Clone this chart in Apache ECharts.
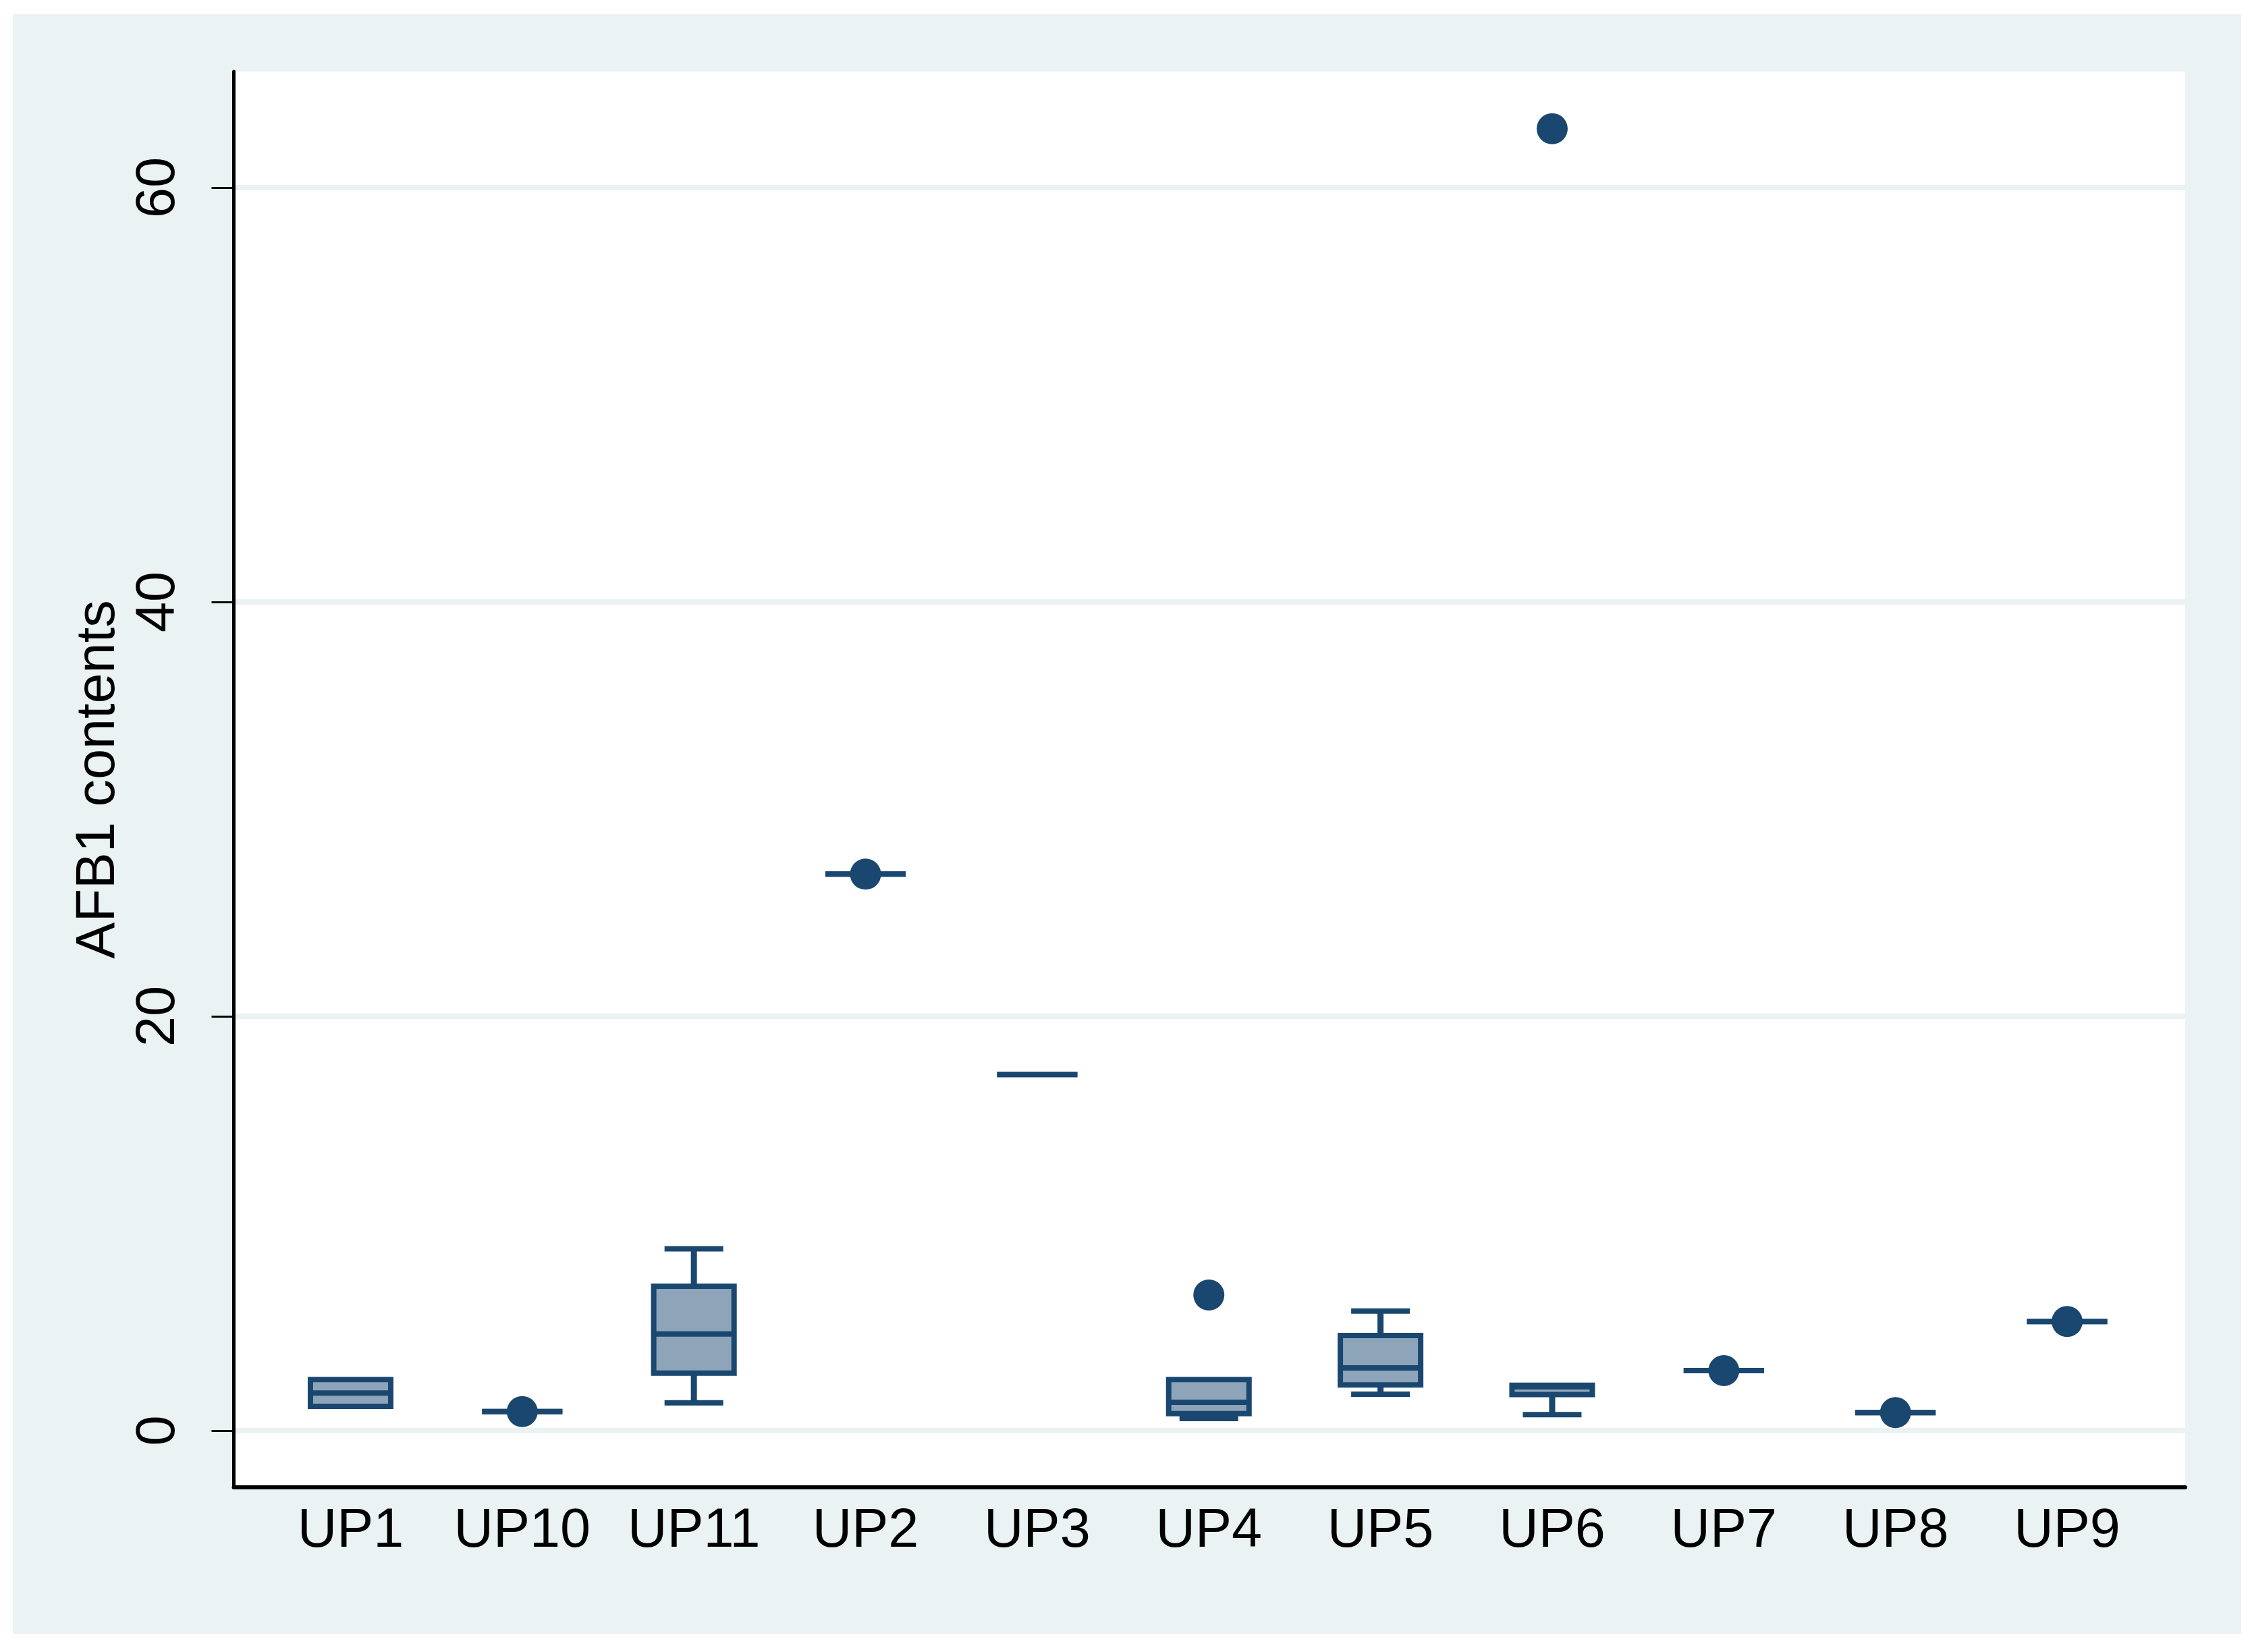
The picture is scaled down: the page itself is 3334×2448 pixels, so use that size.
<!DOCTYPE html>
<html>
<head>
<meta charset="utf-8">
<script src="https://cdn.jsdelivr.net/npm/echarts@6/dist/echarts.min.js"></script>
<style>
  html, body { margin: 0; padding: 0; background: #ffffff; }
  #outer { position: absolute; left: 19px; top: 21px; width: 3302px; height: 2400px; background: #eaf2f3; }
  #chart { position: absolute; left: 0; top: 0; width: 3334px; height: 2448px; }
</style>
</head>
<body>
<div id="outer"></div>
<div id="chart"></div>
<script>
// ---- data ----
const categories = ['UP1', 'UP10', 'UP11', 'UP2', 'UP3', 'UP4', 'UP5', 'UP6', 'UP7', 'UP8', 'UP9'];
const whiskerLow  = [1.17, 0.92, 1.34, 26.86, 17.19, 0.59, 1.76, 0.77, 2.90, 0.87, 5.27];
const quartile1   = [1.17, 0.92, 2.78, 26.86, 17.19, 0.82, 2.21, 1.74, 2.90, 0.87, 5.27];
const medians     = [1.82, 0.92, 4.67, 26.86, 17.19, 1.37, 3.03, 2.12, 2.90, 0.87, 5.27];
const quartile3   = [2.47, 0.92, 6.97, 26.86, 17.19, 2.47, 4.59, 2.19, 2.90, 0.87, 5.27];
const whiskerHigh = [2.47, 0.92, 8.78, 26.86, 17.19, 2.47, 5.77, 2.19, 2.90, 0.87, 5.27];
const outlierCats = ['UP10', 'UP2', 'UP4', 'UP6', 'UP7', 'UP8', 'UP9'];
const outlierVals = [0.92, 26.86, 6.55, 62.84, 2.90, 0.87, 5.27];
const yTicks = [0, 20, 40, 60];
const yTitle = 'AFB1 contents';

// ---- build ----
const NAVY = '#1a476f';
const FILL = '#8ea4b8';
const YMIN = -2.736, YMAX = 65.60;
const FONT = "'Liberation Sans', Arial, Helvetica, sans-serif";

const boxData = categories.map((c, i) => [i, whiskerLow[i], quartile1[i], medians[i], quartile3[i], whiskerHigh[i]]);
const outlierData = outlierCats.map((c, i) => [c, outlierVals[i]]);

function renderBox(params, api) {
  const idx = api.value(0);
  const lo = api.value(1), q1 = api.value(2), med = api.value(3), q3 = api.value(4), hi = api.value(5);
  const band = api.size([1, 0])[0];
  const cx = api.coord([idx, med])[0];
  const Y = v => api.coord([idx, v])[1];
  const bw = band * 0.468;
  const cw = band * 0.342;
  const lw = 8;
  const st = { stroke: NAVY, lineWidth: lw, fill: null };
  const children = [];
  if (hi > q3) {
    children.push({ type: 'line', shape: { x1: cx, y1: Y(q3), x2: cx, y2: Y(hi) }, style: { stroke: NAVY, lineWidth: 9 } });
    children.push({ type: 'line', shape: { x1: cx - cw / 2, y1: Y(hi), x2: cx + cw / 2, y2: Y(hi) }, style: st });
  }
  if (lo < q1) {
    children.push({ type: 'line', shape: { x1: cx, y1: Y(q1), x2: cx, y2: Y(lo) }, style: { stroke: NAVY, lineWidth: 9 } });
    children.push({ type: 'line', shape: { x1: cx - cw / 2, y1: Y(lo), x2: cx + cw / 2, y2: Y(lo) }, style: st });
  }
  const yt = Y(q3), yb = Y(q1);
  children.push({ type: 'rect', shape: { x: cx - bw / 2, y: yt, width: bw, height: Math.max(yb - yt, 0) },
                  style: { fill: FILL, stroke: NAVY, lineWidth: lw } });
  children.push({ type: 'line', shape: { x1: cx - bw / 2, y1: Y(med), x2: cx + bw / 2, y2: Y(med) }, style: st });
  return { type: 'group', children: children };
}

const chart = echarts.init(document.getElementById('chart'), null, { renderer: 'canvas' });
chart.setOption({
  backgroundColor: 'transparent',
  animation: false,
  grid: [
    { left: 346.5, right: 96, top: 106, bottom: 244, show: true, backgroundColor: '#ffffff', borderWidth: 0 },
    { left: 392.3, right: 143.8, top: 106, bottom: 244 }
  ],
  xAxis: [
    { gridIndex: 0, type: 'value', min: 0, max: 1,
      axisLine: { show: true, onZero: false, lineStyle: { color: '#000', width: 6 } },
      axisTick: { show: false }, axisLabel: { show: false }, splitLine: { show: false } },
    { gridIndex: 1, type: 'category', data: categories, boundaryGap: true,
      axisLine: { show: false }, axisTick: { show: false }, splitLine: { show: false },
      axisLabel: { show: true, interval: 0, margin: 25, color: '#000', fontSize: 81, fontFamily: FONT } }
  ],
  yAxis: [
    { gridIndex: 0, type: 'value', min: YMIN, max: YMAX,
      name: yTitle, nameLocation: 'middle', nameRotate: 90, nameGap: 156,
      nameTextStyle: { color: '#000', fontSize: 81, fontFamily: FONT },
      axisLine: { show: true, onZero: false, lineStyle: { color: '#000', width: 5 } },
      axisTick: { show: true, length: 33, customValues: yTicks, lineStyle: { color: '#000', width: 3 } },
      axisLabel: { show: true, rotate: 90, margin: 70, customValues: yTicks, color: '#000', fontSize: 81, fontFamily: FONT },
      splitLine: { show: true, lineStyle: { color: '#eaf2f3', width: 8 } } },
    { gridIndex: 1, type: 'value', min: YMIN, max: YMAX, show: false, splitLine: { show: false } }
  ],
  series: [
    { type: 'custom', xAxisIndex: 1, yAxisIndex: 1, data: boxData, renderItem: renderBox,
      encode: { x: 0, y: [1, 2, 3, 4, 5] }, z: 3 },
    { type: 'scatter', xAxisIndex: 1, yAxisIndex: 1, data: outlierData, symbol: 'circle', symbolSize: 46,
      itemStyle: { color: NAVY, opacity: 1 }, z: 4 }
  ]
});
</script>
</body>
</html>
